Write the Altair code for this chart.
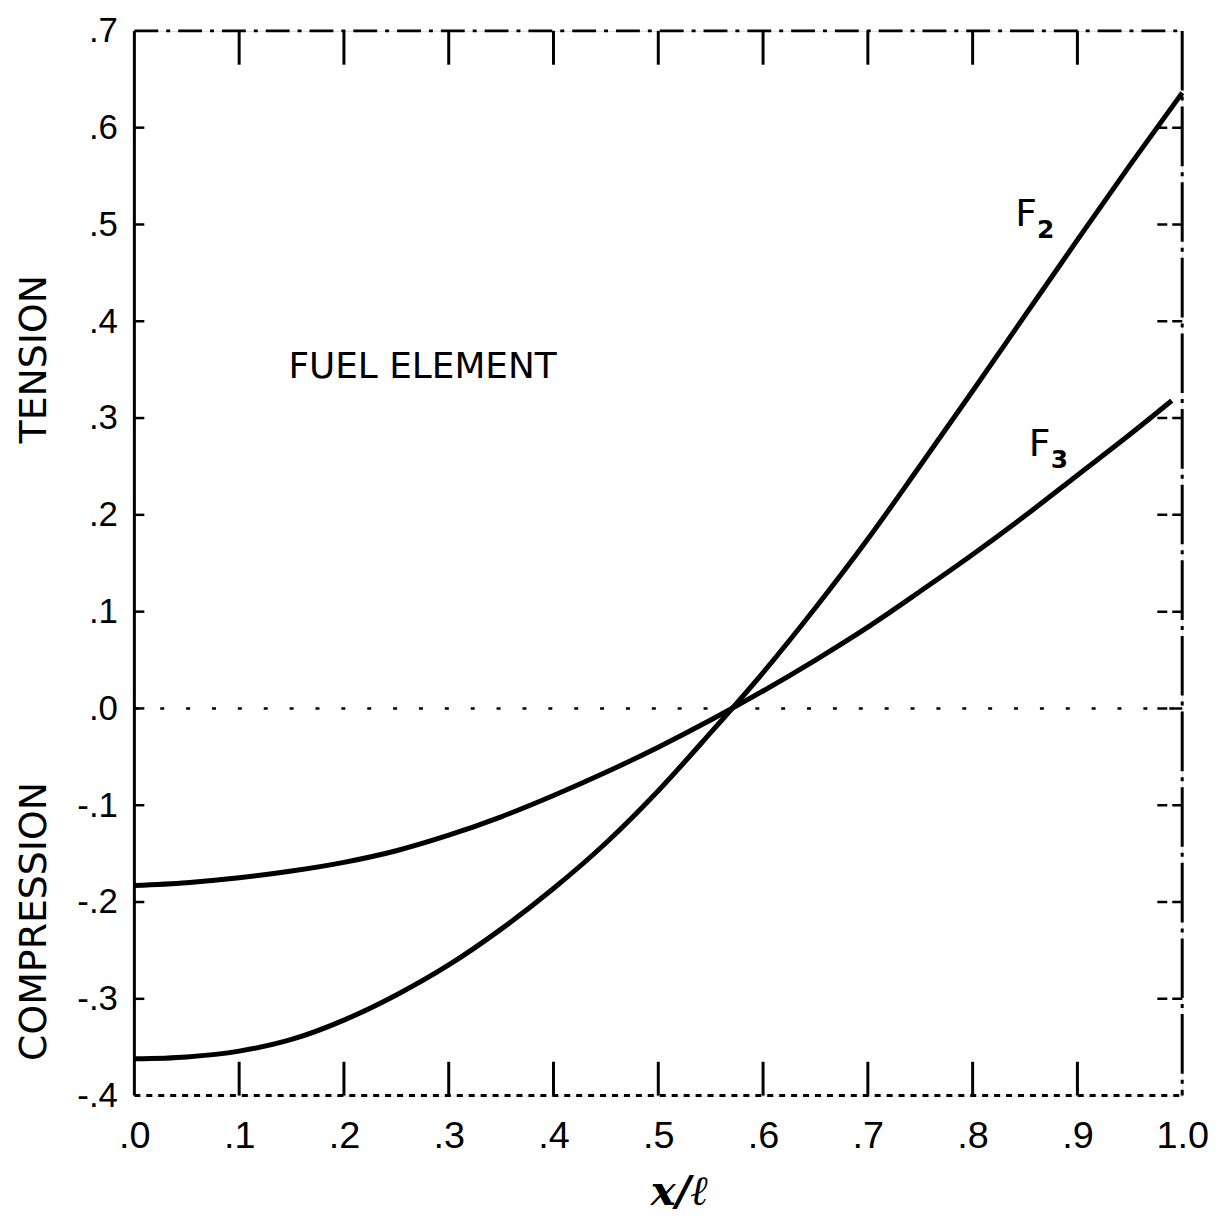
import json
import altair as alt
import pandas as pd

# ---- data ----
f2_x = [0.0, 0.05, 0.1, 0.15, 0.2, 0.25, 0.3, 0.35, 0.4, 0.45, 0.5, 0.55,
        0.6, 0.65, 0.7, 0.75, 0.8, 0.85, 0.9, 0.95, 1.0]
f2_vals = [-0.362, -0.360, -0.354, -0.342, -0.322, -0.296, -0.265, -0.228,
           -0.186, -0.139, -0.085, -0.025, 0.037, 0.104, 0.175, 0.251, 0.328,
           0.406, 0.484, 0.561, 0.636]
f3_x = [0.0, 0.05, 0.1, 0.15, 0.2, 0.25, 0.3, 0.35, 0.4, 0.45, 0.5, 0.55,
        0.6, 0.65, 0.7, 0.75, 0.8, 0.85, 0.9, 0.95, 0.99]
f3_vals = [-0.183, -0.180, -0.175, -0.168, -0.159, -0.147, -0.131, -0.112,
           -0.090, -0.066, -0.040, -0.012, 0.018, 0.050, 0.084, 0.121, 0.159,
           0.199, 0.241, 0.283, 0.318]

x_ticks = [0.0, 0.1, 0.2, 0.3, 0.4, 0.5, 0.6, 0.7, 0.8, 0.9, 1.0]
x_tick_labels = [".0", ".1", ".2", ".3", ".4", ".5", ".6", ".7", ".8", ".9", "1.0"]
y_ticks = [-0.4, -0.3, -0.2, -0.1, 0.0, 0.1, 0.2, 0.3, 0.4, 0.5, 0.6, 0.7]
y_tick_labels = ["-.4", "-.3", "-.2", "-.1", ".0", ".1", ".2", ".3", ".4", ".5", ".6", ".7"]
inner_x_ticks = [0.1, 0.2, 0.3, 0.4, 0.5, 0.6, 0.7, 0.8, 0.9]
inner_y_ticks = [-0.3, -0.2, -0.1, 0.0, 0.1, 0.2, 0.3, 0.4, 0.5, 0.6]

ann_text = ["FUEL ELEMENT"]
ann_x = [0.275]
ann_y = [0.353]

series_labels = ["F", "F"]
series_subs = ["2", "3"]
series_label_x = [0.851, 0.864]
series_label_y = [0.510, 0.272]

W, H = 1053, 1070

lines_df = pd.DataFrame(
    {"x": f2_x + f3_x, "y": f2_vals + f3_vals,
     "series": ["F2"] * len(f2_x) + ["F3"] * len(f3_x)}
)

x_scale = alt.Scale(domain=[0, 1.0], nice=False, zero=False)
y_scale = alt.Scale(domain=[-0.4, 0.7], nice=False, zero=False)

x_expr = f"{json.dumps(x_tick_labels)}[round(datum.value*10)]"
y_expr = f"{json.dumps(y_tick_labels)}[round((datum.value+0.4)*10)]"

FONT = "Liberation Sans"
NARROW = "Liberation Sans Narrow, Liberation Sans"
TITLE_FONT = "DejaVu Sans"

lines = alt.Chart(lines_df).mark_line(
    color="black", strokeWidth=5, interpolate="monotone"
).encode(
    x=alt.X("x:Q", scale=x_scale,
            axis=alt.Axis(values=x_ticks, labelExpr=x_expr, tickSize=0,
                          domain=False, grid=False, labelFontSize=38,
                          labelFont=NARROW, labelColor="black",
                          labelPadding=22, title=None, labelFlush=False)),
    y=alt.Y("y:Q", scale=y_scale,
            axis=alt.Axis(values=y_ticks, labelExpr=y_expr, tickSize=0,
                          domain=False, grid=False, labelFontSize=35,
                          labelFont=FONT, labelColor="black",
                          labelPadding=17, title=None, labelFlush=False)),
    detail="series:N",
)

xt_df = pd.DataFrame({"x": inner_x_ticks})
top_ticks = alt.Chart(xt_df).mark_rule(color="black", strokeWidth=3).encode(
    x=alt.X("x:Q", scale=x_scale), y=alt.value(0), y2=alt.value(34))
bot_ticks = alt.Chart(xt_df).mark_rule(color="black", strokeWidth=3).encode(
    x=alt.X("x:Q", scale=x_scale), y=alt.value(H), y2=alt.value(H - 34))

yt_df = pd.DataFrame({"y": inner_y_ticks})
left_ticks = alt.Chart(yt_df).mark_rule(color="black", strokeWidth=2.5).encode(
    y=alt.Y("y:Q", scale=y_scale), x=alt.value(0), x2=alt.value(10))
right_ticks = alt.Chart(yt_df).mark_rule(
    color="black", strokeWidth=2.5, strokeDash=[10, 5]).encode(
    y=alt.Y("y:Q", scale=y_scale), x=alt.value(W), x2=alt.value(W - 30))

zero_line = alt.Chart(pd.DataFrame({"y": [0.0]})).mark_rule(
    color="black", strokeWidth=2.5, strokeDash=[4, 22]).encode(
    y=alt.Y("y:Q", scale=y_scale), x=alt.value(0), x2=alt.value(W))

frame_df = pd.DataFrame({"k": [0]})
left_edge = alt.Chart(frame_df).mark_rule(color="black", strokeWidth=3).encode(
    x=alt.value(0), y=alt.value(0), y2=alt.value(H))
right_edge = alt.Chart(frame_df).mark_rule(
    color="black", strokeWidth=3, strokeDash=[60, 6, 4, 6]).encode(
    x=alt.value(W), y=alt.value(0), y2=alt.value(H))
top_edge = alt.Chart(frame_df).mark_rule(
    color="black", strokeWidth=3, strokeDash=[24, 8, 4, 8]).encode(
    x=alt.value(0), x2=alt.value(W), y=alt.value(0))
bot_edge = alt.Chart(frame_df).mark_rule(
    color="black", strokeWidth=3, strokeDash=[6, 6]).encode(
    x=alt.value(0), x2=alt.value(W), y=alt.value(H))

ann = alt.Chart(pd.DataFrame({"t": ann_text, "x": ann_x, "y": ann_y})).mark_text(
    font=TITLE_FONT, fontSize=36, color="black", align="center", baseline="middle"
).encode(x=alt.X("x:Q", scale=x_scale), y=alt.Y("y:Q", scale=y_scale), text="t:N")

lab_df = pd.DataFrame({"t": series_labels, "s": series_subs,
                       "x": series_label_x, "y": series_label_y})
lab_main = alt.Chart(lab_df).mark_text(
    font=TITLE_FONT, fontSize=38, color="black", align="center", baseline="middle"
).encode(x=alt.X("x:Q", scale=x_scale), y=alt.Y("y:Q", scale=y_scale), text="t:N")
lab_sub = alt.Chart(lab_df).mark_text(
    font=TITLE_FONT, fontSize=25, fontWeight="bold", color="black", align="left",
    baseline="middle", dx=11, dy=15
).encode(x=alt.X("x:Q", scale=x_scale), y=alt.Y("y:Q", scale=y_scale), text="s:N")

titles_df = pd.DataFrame({"t": ["TENSION", "COMPRESSION"], "py": [330, 895]})
y_titles = alt.Chart(titles_df).mark_text(
    font=TITLE_FONT, fontSize=38, color="black", angle=270, align="center",
    baseline="middle"
).encode(x=alt.value(-100), y=alt.Y("py:Q", scale=None), text="t:N")

x_title = alt.Chart(pd.DataFrame({"t": ["x/\u2113"]})).mark_text(
    font="DejaVu Serif", fontSize=42, fontStyle="italic", fontWeight="bold",
    color="black", align="center", baseline="middle"
).encode(x=alt.value(548), y=alt.value(H + 97), text="t:N")

chart = alt.layer(
    zero_line, top_ticks, bot_ticks, left_ticks, right_ticks,
    left_edge, right_edge, top_edge, bot_edge,
    lines, ann, lab_main, lab_sub, y_titles, x_title
).properties(
    width=W, height=H,
    autosize=alt.AutoSizeParams(type="none"),
    padding={"left": 127, "top": 20, "right": 40, "bottom": 120},
).configure_view(stroke=None).configure(background="white")

chart.save("out.html", embed_options={"renderer": "svg", "actions": False})
